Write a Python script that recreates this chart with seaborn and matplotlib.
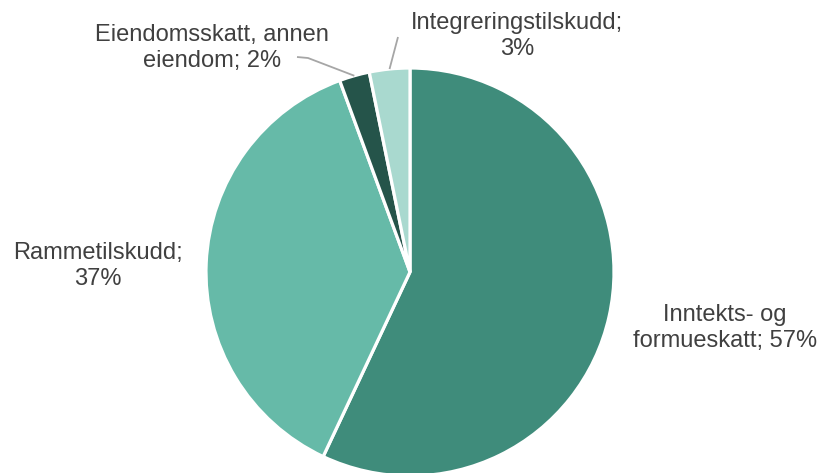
import matplotlib
matplotlib.use("Agg")
import matplotlib.pyplot as plt
import seaborn as sns
import numpy as np

sns.set_theme(style="white")
plt.rcParams['font.family'] = ['Liberation Sans', 'DejaVu Sans']

categories = ["Inntekts- og formueskatt", "Rammetilskudd", "Eiendomsskatt, annen eiendom", "Integreringstilskudd"]
label_texts = ["Inntekts- og\nformueskatt", "Rammetilskudd;\n", "Eiendomsskatt, annen\neiendom", "Integreringstilskudd;\n"]
values = [57.0, 37.4, 2.4, 3.2]
colors = ["#3F8C7B", "#66BAA8", "#25544A", "#A9D9CF"]

W, H, DPI = 821, 473, 100
fig = plt.figure(figsize=(W / DPI, H / DPI), dpi=DPI)
ax = fig.add_axes([0, 0, 1, 1])

# pixel geometry of pie
cx, cy, R = 410, 272, 204

wedges, _ = ax.pie(values, colors=colors, startangle=90, counterclock=False, radius=1,
                   wedgeprops=dict(edgecolor="white", linewidth=2.3))

ax.set_xlim(-cx / R, (W - cx) / R)
ax.set_ylim(-(H - cy) / R, cy / R)
ax.set_aspect('auto')
ax.axis('off')

def px(x, y):
    return ((x - cx) / R, (cy - y) / R)

txt_color = "#404040"
fs = 17

def label(i):
    v = values[i]
    t = label_texts[i]
    if t.endswith("\n"):
        return t + f"{round(v):.0f}%"
    return t + f"; {round(v):.0f}%"

positions = [(725, 328), (98, 266), (212, 48), (517, 36)]
for i, (x, y) in enumerate(positions):
    tx, ty = px(x, y)
    ax.text(tx, ty, label(i), ha='center', va='center', fontsize=fs, color=txt_color,
            linespacing=1.2)

# leader lines anchored on wedge mid-angles
def mid_point(i, r=1.0):
    w = wedges[i]
    ang = np.deg2rad((w.theta1 + w.theta2) / 2)
    return r * np.cos(ang), r * np.sin(ang)

lc = "#A6A6A6"
ex, ey = mid_point(2)
p1 = px(308, 58)
p0 = px(297, 57)
ax.plot([ex, p1[0], p0[0]], [ey, p1[1], p0[1]], color=lc, lw=1.3, solid_capstyle='butt')

ix, iy = mid_point(3)
q = px(398, 37)
ax.plot([ix, q[0]], [iy, q[1]], color=lc, lw=1.3, solid_capstyle='butt')

fig.savefig("out.png", dpi=DPI, facecolor="white")
